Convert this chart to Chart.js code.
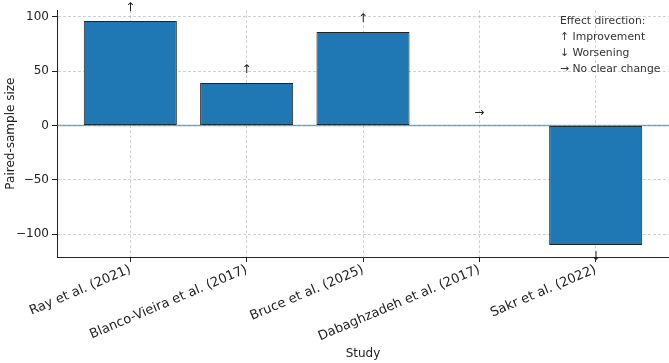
<!DOCTYPE html>
<html>
<head>
<meta charset="utf-8">
<script src="https://cdn.jsdelivr.net/npm/chart.js@4.4.0/dist/chart.umd.min.js"></script>
<style>
html, body { margin: 0; padding: 0; background: #fff; }
#wrap { width: 669px; height: 363px; }
</style>
</head>
<body>
<div id="wrap"><canvas id="myChart" width="669" height="363"></canvas></div>
<script>
const studies = ['Ray et al. (2021)', 'Blanco-Vieira et al. (2017)', 'Bruce et al. (2025)', 'Dabaghzadeh et al. (2017)', 'Sakr et al. (2022)'];
const sampleSizes = [96, 39, 86, 0, -110];
const directions = ['↑', '↑', '↑', '→', '↓'];
const yTicks = [-100, -50, 0, 50, 100];
const noteLines = ['Effect direction:', '↑ Improvement', '↓ Worsening', '→ No clear change'];

const FONT = "'DejaVu Sans', sans-serif";
Chart.defaults.font.family = FONT;
Chart.defaults.color = '#222';

// zero line, arrows over the bars and the little note in the corner
const extras = {
  id: 'extras',
  afterDraw(chart) {
    const ctx = chart.ctx;
    const x = chart.scales.x, y = chart.scales.y;
    const area = chart.chartArea;
    const y0 = y.getPixelForValue(0);
    ctx.save();
    ctx.strokeStyle = 'rgba(31,119,180,0.6)';
    ctx.lineWidth = 1.5;
    ctx.beginPath();
    ctx.moveTo(area.left, y0);
    ctx.lineTo(area.right, y0);
    ctx.stroke();

    ctx.fillStyle = '#222';
    ctx.font = '12px ' + FONT;
    ctx.textAlign = 'center';
    for (let i = 0; i < sampleSizes.length; i++) {
      const v = sampleSizes[i];
      const px = x.getPixelForValue(i);
      const py = y.getPixelForValue(v);
      if (v > 0) {
        ctx.textBaseline = 'bottom';
        ctx.fillText(directions[i], px, py - 7);
      } else if (v < 0) {
        ctx.textBaseline = 'top';
        ctx.fillText(directions[i], px, py + 6);
      } else {
        ctx.textBaseline = 'middle';
        ctx.fillText(directions[i], px, py - 13);
      }
    }

    ctx.fillStyle = '#333';
    ctx.font = '10.8px ' + FONT;
    ctx.textAlign = 'left';
    ctx.textBaseline = 'middle';
    for (let i = 0; i < noteLines.length; i++) {
      ctx.fillText(noteLines[i], 560, 21 + i * 16);
    }
    ctx.restore();
  }
};

const ctx = document.getElementById('myChart').getContext('2d');
const myChart = new Chart(ctx, {
  type: 'bar',
  data: {
    datasets: [{
      data: sampleSizes.map((v, i) => ({ x: i, y: v })),
      backgroundColor: '#1f77b4',
      borderColor: '#222',
      borderWidth: 1,
      borderSkipped: false,
      barPercentage: 0.8,
      categoryPercentage: 1.0
    }]
  },
  options: {
    responsive: false,
    animation: false,
    layout: { padding: { top: 7, right: 0, left: 0, bottom: 0 } },
    plugins: { legend: { display: false }, tooltip: { enabled: false } },
    scales: {
      x: {
        type: 'linear',
        offset: false,
        min: -0.63,
        max: 4.63,
        z: 1,
        afterBuildTicks: (s) => { s.ticks = studies.map((_, i) => ({ value: i })); },
        afterFit: (s) => { s.height = 106; },
        grid: { offset: false, color: 'rgba(150,150,150,0.45)', tickColor: '#222', tickLength: 5 },
        border: { color: '#222', dash: [3, 2] },
        ticks: {
          autoSkip: false,
          minRotation: 23,
          maxRotation: 23,
          padding: 0,
          color: '#222',
          font: { size: 13 },
          callback: (v) => studies[v] ?? ''
        },
        title: { display: true, text: 'Study', color: '#222', font: { size: 12 }, padding: { top: 4, bottom: 2 } }
      },
      y: {
        min: -121,
        max: 106,
        z: 1,
        afterBuildTicks: (s) => { s.ticks = yTicks.map(v => ({ value: v })); },
        afterFit: (s) => { s.width = 57; },
        grid: { color: 'rgba(150,150,150,0.45)', tickColor: '#222', tickLength: 5 },
        border: { color: '#222', dash: [3, 2] },
        ticks: {
          padding: 3,
          color: '#222',
          font: { size: 12 },
          callback: (v) => v < 0 ? '−' + Math.abs(v) : String(v)
        },
        title: { display: true, text: 'Paired-sample size', color: '#222', font: { size: 12 }, padding: 4 }
      }
    }
  },
  plugins: [extras]
});
</script>
</body>
</html>
